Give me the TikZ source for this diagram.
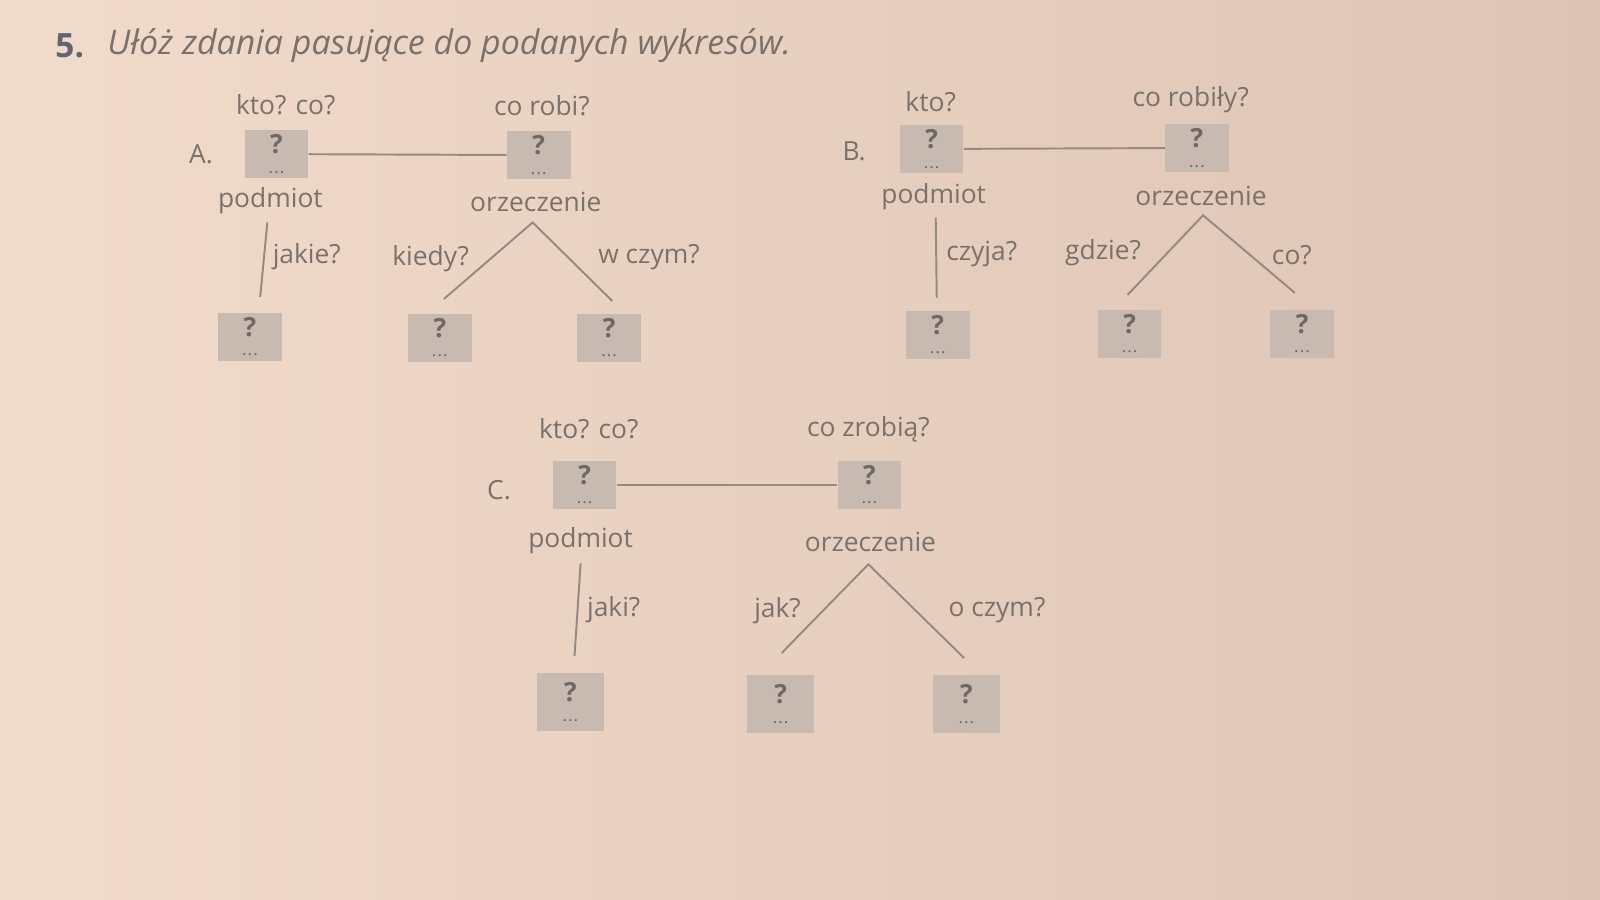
\documentclass[tikz,border=0pt]{standalone}
\usepackage{fontspec}
\setmainfont{Open Sans}
\definecolor{paperL}{RGB}{241,219,203}
\definecolor{paperR}{RGB}{222,196,180}
\definecolor{ink}{RGB}{122,113,108}
\definecolor{boxfill}{RGB}{200,186,176}
\definecolor{qmark}{RGB}{112,104,100}
\definecolor{wire}{RGB}{148,137,131}
\definecolor{nrink}{RGB}{98,100,114}
\newcommand{\quest}{?\\[-4pt]{\fontsize{7}{7}\selectfont\bfseries.\,.\,.}}
\begin{document}
\begin{tikzpicture}[x=0.0204cm, y=-0.0204cm,
  txt/.style={text=ink, font=\fontsize{15}{18}\selectfont, inner sep=0},
  box/.style={fill=boxfill, text=qmark, minimum width=1.27cm, minimum height=0.96cm,
    inner sep=0, align=center, font=\fontsize{15}{15}\selectfont\bfseries},
  link/.style={draw=wire, line width=1.1pt}]
  \useasboundingbox (0,0) rectangle (1568,882);
  \shade[left color=paperL, right color=paperR] (0,0) rectangle (1568,882);
  \node[txt, anchor=west, text=nrink, font=\fontsize{19}{22}\selectfont\bfseries] (nr) at (54,45) {5.};
  \node[txt, anchor=west, font=\fontsize{19.3}{22}\selectfont\itshape] (title) at (105,45) {Ułóż zdania pasujące do podanych wykresów.};

  \node[txt] (aq1) at (280,103) {kto? co?};
  \node[txt] (aq2) at (531,104) {co robi?};
  \node[txt] (alab) at (197,151) {A.};
  \node[box] (a1) at (271,151) {\quest};
  \node[box] (a2) at (528,152) {\quest};
  \draw[link] (a1) -- (a2);
  \node[txt] (apod) at (265,197) {podmiot};
  \node[txt] (aorz) at (525,198) {orzeczenie};
  \coordinate (av1) at (262,218);
  \coordinate (av2) at (255,291);
  \draw[link] (av1) -- (av2);
  \node[txt, anchor=west] (aq3) at (267,252) {jakie?};
  \node[txt] (aq4) at (422,253) {kiedy?};
  \node[txt] (aq5) at (636,252) {w czym?};
  \coordinate (atop) at (522,218);
  \coordinate (al) at (435,293);
  \coordinate (ar) at (600,295);
  \draw[link] (al) -- (atop) -- (ar);
  \node[box] (a3) at (245,330) {\quest};
  \node[box] (a4) at (431,331) {\quest};
  \node[box] (a5) at (597,331) {\quest};

  \node[txt] (bq1) at (912,100) {kto?};
  \node[txt] (bq2) at (1167,98) {co robiły?};
  \node[txt] (blab) at (837,148) {B.};
  \node[box] (b1) at (913,146) {\quest};
  \node[box] (b2) at (1173,145) {\quest};
  \draw[link] (b1) -- (b2);
  \node[txt] (bpod) at (915,193) {podmiot};
  \node[txt] (borz) at (1177,192) {orzeczenie};
  \coordinate (bv1) at (917,213);
  \coordinate (bv2) at (918,292);
  \draw[link] (bv1) -- (bv2);
  \node[txt, anchor=west] (bq3) at (927,249) {czyja?};
  \node[txt] (bq4) at (1081,248) {gdzie?};
  \node[txt] (bq5) at (1266,250) {co?};
  \coordinate (btop) at (1179,211);
  \coordinate (bl) at (1105,289);
  \coordinate (br) at (1269,287);
  \draw[link] (bl) -- (btop) -- (br);
  \node[box] (b3) at (919,328) {\quest};
  \node[box] (b4) at (1107,327) {\quest};
  \node[box] (b5) at (1276,327) {\quest};

  \node[txt] (cq1) at (577,420) {kto? co?};
  \node[txt] (cq2) at (851,421) {co zrobią?};
  \node[txt] (clab) at (489,480) {C.};
  \node[box] (c1) at (573,475) {\quest};
  \node[box] (c2) at (852,475) {\quest};
  \draw[link] (c1) -- (c2);
  \node[txt] (cpod) at (569,530) {podmiot};
  \node[txt] (corz) at (853,531) {orzeczenie};
  \coordinate (cv1) at (569,552);
  \coordinate (cv2) at (563,643);
  \draw[link] (cv1) -- (cv2);
  \node[txt, anchor=west] (cq3) at (575,597) {jaki?};
  \node[txt] (cq4) at (762,598) {jak?};
  \node[txt] (cq5) at (977,598) {o czym?};
  \coordinate (ctop) at (851,553);
  \coordinate (cl) at (766,640);
  \coordinate (cr) at (945,645);
  \draw[link] (cl) -- (ctop) -- (cr);
  \node[box, minimum width=1.35cm, minimum height=1.15cm] (c3) at (559,688) {\quest};
  \node[box, minimum width=1.35cm, minimum height=1.15cm] (c4) at (765,690) {\quest};
  \node[box, minimum width=1.35cm, minimum height=1.15cm] (c5) at (947,690) {\quest};
\end{tikzpicture}
\end{document}
